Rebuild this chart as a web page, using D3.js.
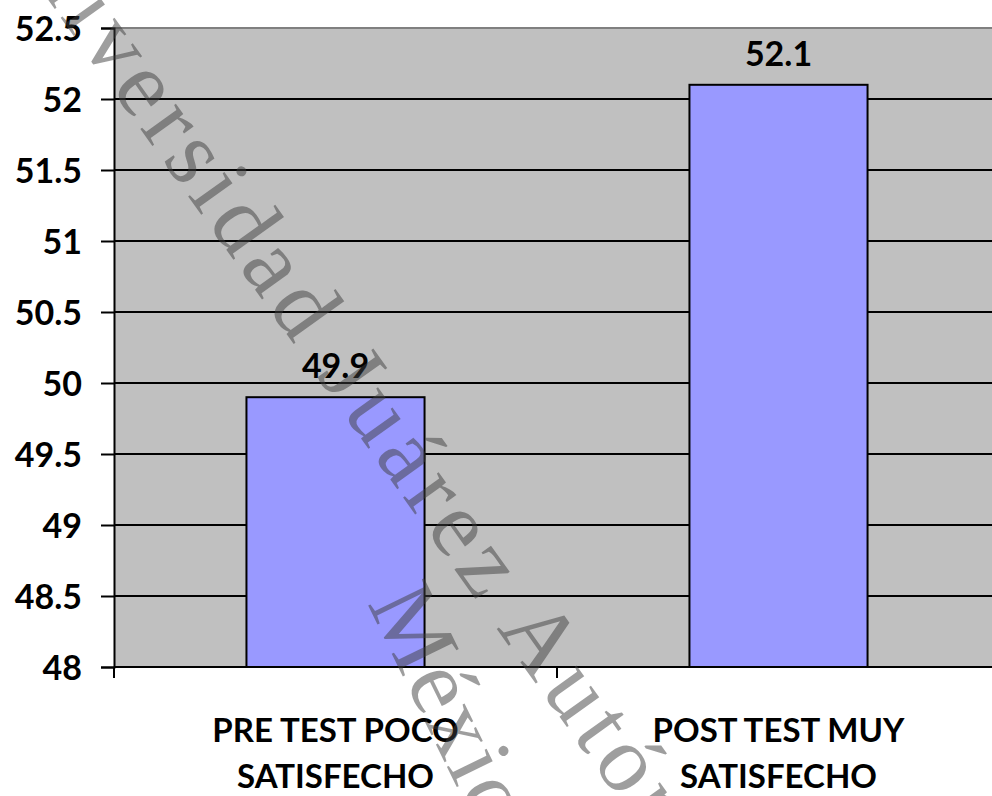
<!DOCTYPE html>
<html>
<head>
<meta charset="utf-8">
<script src="https://cdn.jsdelivr.net/npm/d3@7/dist/d3.min.js"></script>
<style>
  html, body { margin: 0; padding: 0; background: #ffffff; }
  svg { display: block; }
  .tick-label, .value-label, .cat-label { font-family: Lato, "Open Sans", sans-serif; font-weight: 700; fill: #000; }
</style>
</head>
<body>
<svg id="chart" width="992" height="796"></svg>
<script>
// Chart data
const categories = ["PRE TEST POCO SATISFECHO", "POST TEST MUY SATISFECHO"];
const categoryLines = [["PRE TEST POCO", "SATISFECHO"], ["POST TEST MUY", "SATISFECHO"]];
const values = [49.9, 52.1];
const yTicks = [48, 48.5, 49, 49.5, 50, 50.5, 51, 51.5, 52, 52.5];
const yDomain = [48, 52.5];
const watermarkLines = ["Universidad Juárez Autónoma", "México"];

const W = 992, H = 796;
const plot = { left: 114, right: 1000, top: 28, bottom: 667 };

const svg = d3.select("#chart");

const y = d3.scaleLinear().domain(yDomain).range([plot.bottom, plot.top]);
const x = d3.scaleBand().domain(categories).range([plot.left, plot.right]).padding(0);
const barWidth = x.bandwidth() * 0.402;

// plot area background
svg.append("rect")
  .attr("x", plot.left).attr("y", plot.top)
  .attr("width", plot.right - plot.left).attr("height", plot.bottom - plot.top)
  .attr("fill", "#c0c0c0");

// top border of the plot area
svg.append("line")
  .attr("x1", plot.left).attr("x2", plot.right)
  .attr("y1", y(yDomain[1])).attr("y2", y(yDomain[1]))
  .attr("stroke", "#808080").attr("stroke-width", 2);

// horizontal gridlines
svg.append("g").selectAll("line")
  .data(yTicks.filter(t => t > yDomain[0] && t < yDomain[1]))
  .join("line")
  .attr("x1", plot.left).attr("x2", plot.right)
  .attr("y1", d => y(d)).attr("y2", d => y(d))
  .attr("stroke", "#000").attr("stroke-width", 2);

// bars
svg.append("g").selectAll("rect")
  .data(categories)
  .join("rect")
  .attr("x", d => x(d) + x.bandwidth() / 2 - barWidth / 2)
  .attr("y", (d, i) => y(values[i]))
  .attr("width", barWidth)
  .attr("height", (d, i) => y(yDomain[0]) - y(values[i]))
  .attr("fill", "#9999ff")
  .attr("stroke", "#000").attr("stroke-width", 2);

// value labels
svg.append("g").selectAll("text")
  .data(categories)
  .join("text")
  .attr("class", "value-label")
  .attr("x", d => x(d) + x.bandwidth() / 2)
  .attr("y", (d, i) => y(values[i]) - 19)
  .attr("text-anchor", "middle")
  .attr("font-size", 34)
  .text((d, i) => values[i]);

// y axis
const yAxis = d3.axisLeft(y)
  .tickValues(yTicks)
  .tickSize(13)
  .tickPadding(19)
  .tickFormat(d => String(d));
const gy = svg.append("g").attr("transform", `translate(${plot.left},0)`).call(yAxis);
gy.select(".domain").attr("stroke", "#000").attr("stroke-width", 2);
gy.selectAll(".tick line").attr("stroke", "#000").attr("stroke-width", 2);
gy.selectAll(".tick text")
  .attr("class", "tick-label")
  .attr("font-size", 34)
  .attr("font-family", null)
  .attr("dy", "0.36em");

// x axis line and category boundary ticks
const bounds = categories.map(c => x(c)).concat([plot.right]);
svg.append("line")
  .attr("x1", plot.left).attr("x2", plot.right)
  .attr("y1", plot.bottom).attr("y2", plot.bottom)
  .attr("stroke", "#000").attr("stroke-width", 2);
svg.append("g").selectAll("line")
  .data(bounds)
  .join("line")
  .attr("x1", d => d).attr("x2", d => d)
  .attr("y1", plot.bottom).attr("y2", plot.bottom + 11)
  .attr("stroke", "#000").attr("stroke-width", 2);

// category labels (two lines each)
const catG = svg.append("g").selectAll("text")
  .data(categories)
  .join("text")
  .attr("class", "cat-label")
  .attr("text-anchor", "middle")
  .attr("font-size", 33);
catG.selectAll("tspan")
  .data((d, i) => categoryLines[i].map(t => ({ t, cx: x(d) + x.bandwidth() / 2 })))
  .join("tspan")
  .attr("x", d => d.cx)
  .attr("y", (d, j) => 742 + j * 46)
  .text(d => d.t);

// watermark across the chart
const wm = svg.append("g")
  .attr("font-family", "'Liberation Serif', 'DejaVu Serif', serif")
  .attr("font-size", 95)
  .attr("letter-spacing", 7)
  .attr("fill", "#3d3d3d")
  .attr("fill-opacity", 0.5)
  .style("pointer-events", "none");
wm.append("text")
  .attr("transform", "translate(-16,-90) rotate(54.5)")
  .text(watermarkLines[0]);
wm.append("text")
  .attr("letter-spacing", 2)
  .attr("transform", "translate(367,603) rotate(64)")
  .text(watermarkLines[1]);
</script>
</body>
</html>
